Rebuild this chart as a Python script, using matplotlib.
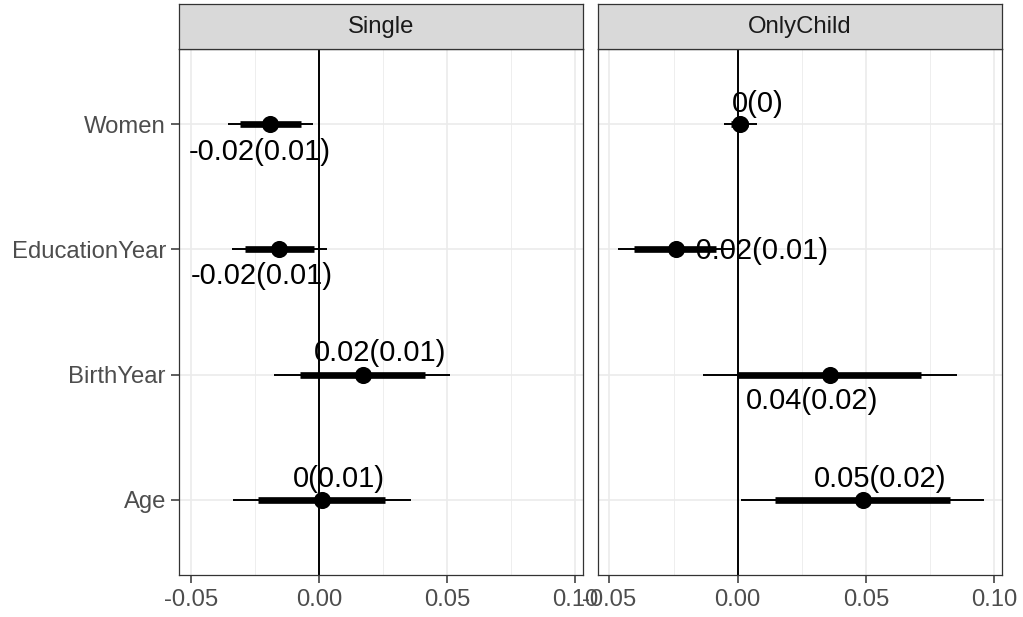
import matplotlib.pyplot as plt
import numpy as np

plt.rcParams['font.family'] = ['Liberation Sans', 'DejaVu Sans']

panels = ['Single', 'OnlyChild']
variables = ['Age', 'BirthYear', 'EducationYear', 'Women']

# estimates and intervals, in order of `variables`
est = {
    'Single': [0.0013, 0.0171, -0.0156, -0.0192],
    'OnlyChild': [0.0487, 0.0361, -0.0240, 0.0010],
}
inner_lo = {
    'Single': [-0.0238, -0.0075, -0.0289, -0.0309],
    'OnlyChild': [0.0146, 0.0000, -0.0405, -0.0026],
}
inner_hi = {
    'Single': [0.0260, 0.0416, -0.0019, -0.0071],
    'OnlyChild': [0.0827, 0.0714, -0.0085, 0.0039],
}
outer_lo = {
    'Single': [-0.0335, -0.0175, -0.0340, -0.0354],
    'OnlyChild': [0.0013, -0.0134, -0.0467, -0.0052],
}
outer_hi = {
    'Single': [0.0360, 0.0513, 0.0033, -0.0022],
    'OnlyChild': [0.0961, 0.0857, -0.0015, 0.0074],
}
labels = {
    'Single': ['0(0.01)', '0.02(0.01)', '-0.02(0.01)', '-0.02(0.01)'],
    'OnlyChild': ['0.05(0.02)', '0.04(0.02)', '-0.02(0.01)', '0(0)'],
}

# label placement (repel-like nudges)
nudge_x = {
    'Single': [0.0067, 0.0068, -0.0067, -0.0039],
    'OnlyChild': [0.0067, -0.0072, 0.0319, 0.0069],
}
nudge_y = {
    'Single': [0.17, 0.17, -0.21, -0.22],
    'OnlyChild': [0.17, -0.21, -0.01, 0.16],
}

xticks = [-0.05, 0.0, 0.05, 0.10]
xticklabels = ['-0.05', '0.00', '0.05', '0.10']
minor = [-0.025, 0.025, 0.075]

W, H = 1023, 617
fig = plt.figure(figsize=(W / 100, H / 100), dpi=100)

panel_x = [(179, 582.7), (597.7, 1001.7)]
top, bottom, strip_top = 49, 575, 4

ypos = np.arange(1, len(variables) + 1)

for i, p in enumerate(panels):
    x0, x1 = panel_x[i]
    ax = fig.add_axes([x0 / W, 1 - bottom / H, (x1 - x0) / W, (bottom - top) / H])
    ax.set_xlim(-0.0546, 0.103)
    ax.set_ylim(0.4, 4.6)
    ax.set_xticks(xticks)
    ax.set_xticklabels(xticklabels)
    ax.set_xticks(minor, minor=True)
    ax.set_yticks(ypos)
    if i == 0:
        ax.set_yticklabels(variables)
    else:
        ax.set_yticklabels([])
    ax.tick_params(axis='both', which='major', labelsize=17.2, labelcolor='#4D4D4D',
                   color='#333333', length=6, width=1.1)
    ax.tick_params(axis='x', pad=4.2)
    ax.tick_params(axis='y', pad=3.4)
    ax.tick_params(which='minor', length=0)
    if i == 1:
        ax.tick_params(axis='y', length=0)
    ax.grid(True, which='major', color='#EBEBEB', lw=1.2)
    ax.grid(True, which='minor', axis='x', color='#EBEBEB', lw=0.6)
    ax.set_axisbelow(True)
    for s in ax.spines.values():
        s.set_color('#333333')
        s.set_linewidth(0.9)

    ax.axvline(0, color='black', lw=1.4, zorder=2)
    ax.hlines(ypos, outer_lo[p], outer_hi[p], color='black', lw=1.4, zorder=3)
    ax.hlines(ypos, inner_lo[p], inner_hi[p], color='black', lw=4.8, zorder=4,
              capstyle='butt')
    ax.plot(est[p], ypos, 'o', color='black', ms=11.3, zorder=5)
    for j in range(len(variables)):
        ax.text(est[p][j] + nudge_x[p][j], ypos[j] + nudge_y[p][j], labels[p][j],
                ha='center', va='center', fontsize=21, color='black', zorder=6)

    sax = fig.add_axes([x0 / W, 1 - top / H, (x1 - x0) / W, (top - strip_top) / H])
    sax.set_facecolor('#D9D9D9')
    sax.set_xticks([])
    sax.set_yticks([])
    for s in sax.spines.values():
        s.set_color('#333333')
        s.set_linewidth(0.9)
    sax.text(0.5, 0.5, p, ha='center', va='center', fontsize=17.2,
             color='#1A1A1A', transform=sax.transAxes)

fig.savefig('out.png', dpi=100)
